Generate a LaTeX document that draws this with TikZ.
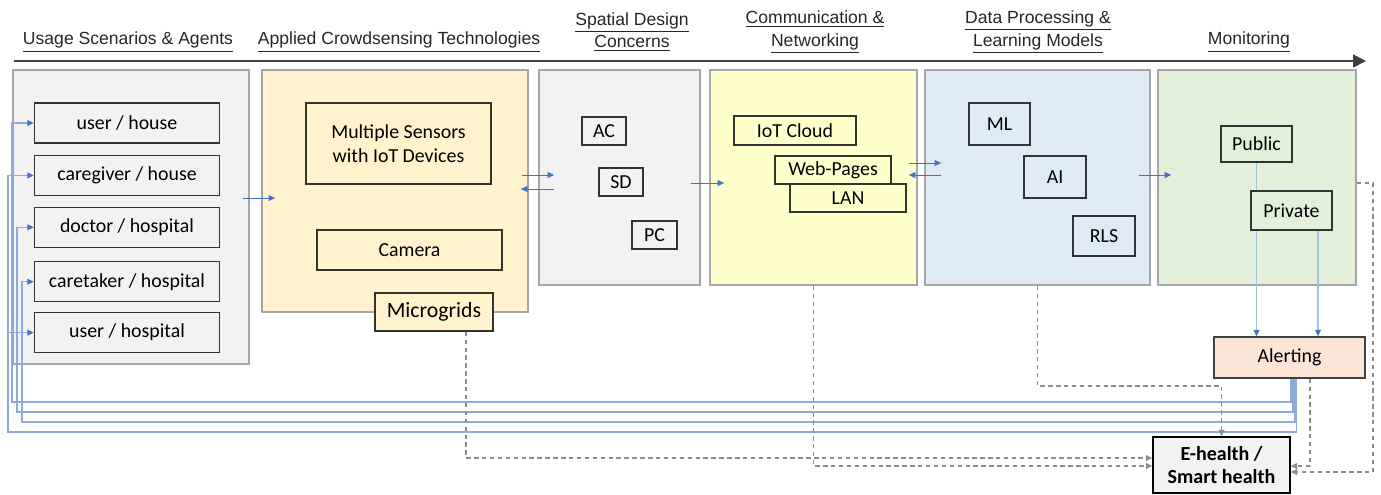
\documentclass[tikz,border=0pt]{standalone}
\usepackage{fontspec}
\setmainfont{Carlito}
\newfontfamily\headfont{Liberation Sans}
\usetikzlibrary{positioning, arrows.meta}
\definecolor{fillGray}{HTML}{F2F2F2}
\definecolor{fillSand}{HTML}{FFF2CC}
\definecolor{fillLemon}{HTML}{FFFFCC}
\definecolor{fillSky}{HTML}{DEEBF7}
\definecolor{fillMint}{HTML}{E2F0D9}
\definecolor{fillPeach}{HTML}{FBE5D6}
\definecolor{lnBlue}{HTML}{4472C4}
\definecolor{lnPale}{HTML}{8FAADC}
\definecolor{lnSoft}{HTML}{9DC3E6}
\definecolor{lnGray}{HTML}{8C8C8C}
\definecolor{rimGray}{HTML}{A6A6A6}
\tikzset{
  every node/.style={font=\fontsize{11.3}{13.5}\selectfont},
  col/.style={draw=rimGray, line width=1pt, inner sep=0pt},
  item/.style={draw=black!80, line width=0.8pt, inner sep=0pt, align=center},
  head/.style={font=\headfont\fontsize{10}{13}\selectfont, align=center, text=black!85},
  fwd/.style={-{Triangle[length=1.3mm, width=1.2mm]}, draw=lnBlue, line width=0.5pt},
  fb/.style={-{Triangle[length=1.3mm, width=1.2mm, color=lnBlue]}, draw=lnPale, line width=0.6pt},
  pv/.style={-{Triangle[length=1.3mm, width=1.2mm, color=lnBlue]}, draw=lnSoft, line width=0.6pt},
  dsh/.style={-{Triangle[length=1.3mm, width=1.2mm]}, draw=lnGray, line width=0.7pt,
              dash pattern=on 2.5pt off 2pt},
  timeline/.style={-{Triangle[length=2.6mm, width=2.6mm]}, draw=black!75, line width=1pt},
}

\begin{document}
\begin{tikzpicture}[x=0.2mm, y=-0.2mm]
  \useasboundingbox (0,0) rectangle (1381,494);
  % stage headers and the time line
  \node[head] (hdUsage) at (128,42) {\underline{Usage Scenarios \& Agents}};
  \node[head] (hdTech) at (399,42) {\underline{Applied Crowdsensing Technologies}};
  \node[head] (hdSpace) at (632,32) {\underline{Spatial Design}\\\underline{Concerns}};
  \node[head] (hdComm) at (815,32) {\underline{Communication \&}\\\underline{Networking}};
  \node[head] (hdData) at (1038,32) {\underline{Data Processing \&}\\\underline{Learning Models}};
  \node[head] (hdMon) at (1249,42) {\underline{Monitoring}};
  \coordinate (tStart) at (14,61);
  \coordinate (tEnd) at (1366,61);
  \draw[timeline] (tStart) -- (tEnd);

  % stage panels
  \node[col, fill=fillGray, minimum width=47.2mm, minimum height=58.8mm] (colUsage) at (131,217) {};
  \node[col, fill=fillSand, minimum width=53.2mm, minimum height=48.4mm] (colTech) at (395,191) {};
  \node[col, fill=fillGray, minimum width=32.2mm, minimum height=43mm] (colSpace) at (619.5,177.5) {};
  \node[col, fill=fillLemon, minimum width=41.4mm, minimum height=43mm] (colComm) at (813.5,177.5) {};
  \node[col, fill=fillSky, minimum width=45mm, minimum height=43mm] (colData) at (1037.5,177.5) {};
  \node[col, fill=fillMint, minimum width=39.6mm, minimum height=43mm] (colMon) at (1257,177.5) {};

  % usage scenarios
  \node[item, minimum width=37mm, minimum height=8mm] (uHouse) at (127,123) {user / house};
  \node[item, minimum width=37mm, minimum height=8mm, below=2.2mm of uHouse] (cgHouse) {caregiver / house};
  \node[item, minimum width=37mm, minimum height=8mm, below=2.1mm of cgHouse] (docHosp) {doctor / hospital};
  \node[item, minimum width=37mm, minimum height=8mm, below=2.6mm of docHosp] (ctHosp) {caretaker / hospital};
  \node[item, minimum width=37mm, minimum height=8mm, below=1.9mm of ctHosp] (uHosp) {user / hospital};

  % crowdsensing technologies
  \node[item, minimum width=37mm, minimum height=16.2mm] (sensors) at (398.5,143.5)
    {Multiple Sensors\\with IoT Devices};
  \node[item, minimum width=37mm, minimum height=8mm] (camera) at (409.5,250) {Camera};
  \node[item, fill=fillSand, minimum width=23.6mm, minimum height=7.6mm,
        font=\fontsize{12.4}{14}\selectfont] (micro) at (434,312) {Microgrids};

  % spatial design
  \node[item, minimum width=8.8mm, minimum height=5.6mm] (ac) at (604,131) {AC};
  \node[item, minimum width=8.8mm, minimum height=5.6mm] (sd) at (621,182) {SD};
  \node[item, minimum width=9mm, minimum height=5.6mm] (pc) at (654.5,235) {PC};

  % networking
  \node[item, minimum width=24.4mm, minimum height=5.8mm] (cloud) at (795,130.5) {IoT Cloud};
  \node[item, fill=fillLemon, minimum width=23.2mm, minimum height=5.6mm] (web) at (833,170) {Web-Pages};
  \node[item, fill=fillLemon, minimum width=23.2mm, minimum height=5.6mm] (lan) at (848,198) {LAN};

  % learning models
  \node[item, minimum width=12.2mm, minimum height=8.4mm] (ml) at (999.5,124) {ML};
  \node[item, minimum width=12.4mm, minimum height=8.4mm] (ai) at (1055,177) {AI};
  \node[item, minimum width=12.4mm, minimum height=8mm] (rls) at (1104,236) {RLS};

  % monitoring
  \node[item, minimum width=14.2mm, minimum height=7.2mm] (pub) at (1256.5,144) {Public};
  \node[item, draw=black!75, fill=fillPeach, minimum width=30.2mm, minimum height=8.2mm] (alert)
    at (1289.5,357.5) {Alerting};
  \draw[pv] (pub.south) -- (pub.south |- alert.north);
  \node[item, fill=fillMint, minimum width=16.2mm, minimum height=7.8mm] (priv) at (1291.5,210.5) {Private};
  \draw[pv] ([xshift=5.3mm]priv.south) -- ([xshift=5.3mm]priv.south |- alert.north);

  \node[item, draw=black, fill=fillGray, minimum width=27.4mm, minimum height=11.2mm,
        font=\bfseries\fontsize{11.4}{13}\selectfont] (ehealth) at (1221.5,465)
    {E-health /\\Smart health};

  % flow between the stages
  \draw[fwd] ([xshift=-1.4mm]colUsage.east |- 0,198) -- ([xshift=2.8mm]colTech.west |- 0,198);
  \draw[fwd] ([xshift=-1.4mm]colTech.east |- 0,175) -- ([xshift=3.2mm]colSpace.west |- 0,175);
  \draw[fwd] ([xshift=3.2mm]colSpace.west |- 0,189) -- ([xshift=-1.6mm]colTech.east |- 0,189);
  \draw[fwd] ([xshift=-2mm]colSpace.east |- 0,183) -- ([xshift=3mm]colComm.west |- 0,183);
  \draw[fwd] ([xshift=-1.8mm]colComm.east |- 0,163) -- ([xshift=3.4mm]colData.west |- 0,163);
  \draw[fwd] ([xshift=3.4mm]colData.west |- 0,175) -- ([xshift=-1.8mm]colComm.east |- 0,175);
  \draw[fwd] ([xshift=-2.4mm]colData.east |- 0,175) -- ([xshift=2.8mm]colMon.west |- 0,175);

  % alerts fed back to the agents
  \draw[fb] ([xshift=.3mm]alert.south) |- (12,402) |- (uHouse.west);
  \draw[fb] ([xshift=.7mm]alert.south) |- (17,412) |- (docHosp.west);
  \draw[fb] ([xshift=1.1mm]alert.south) |- (22,422) |- (ctHosp.west);
  \draw[fb] ([xshift=1.4mm]alert.south) |- (8,432) |- (cgHouse.west);
  \draw[fb] ([xshift=1.4mm]alert.south) |- (8,432) |- (uHosp.west);

  % everything ends up in e-health
  \draw[dsh] ([xshift=6.4mm]micro.south) |- ([yshift=1.4mm]ehealth.west);
  \draw[dsh] (colComm.south) |- ([yshift=-.2mm]ehealth.west);
  \draw[dsh] (colData.south) -- ++(0,100) -| (ehealth.north);
  \draw[dsh] ([xshift=4.1mm]alert.south) |- ([yshift=-.2mm]ehealth.east);
  \draw[dsh] ([yshift=-1.1mm]colMon.east) -- ++(16,0) |- ([yshift=-1.4mm]ehealth.east);
\end{tikzpicture}
\end{document}
